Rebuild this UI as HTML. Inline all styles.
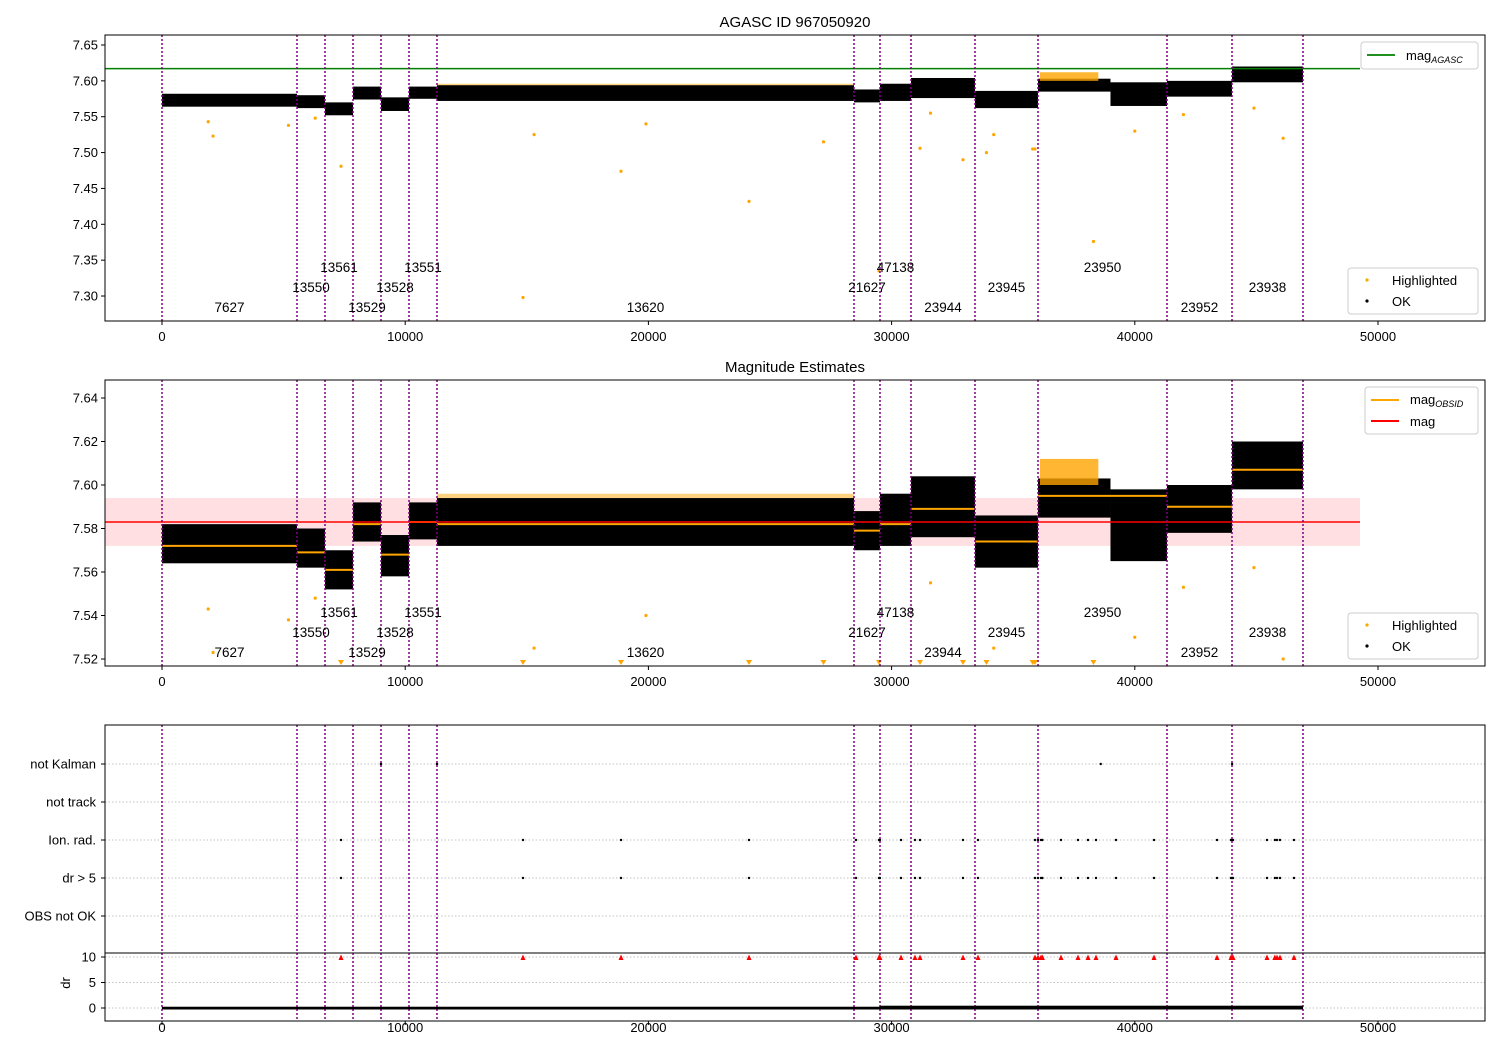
<!DOCTYPE html>
<html><head><meta charset="utf-8"><style>
body{margin:0;background:#fff;}
svg{display:block;font-family:"Liberation Sans","DejaVu Sans",sans-serif;}
</style></head><body>
<svg id="c" width="1500" height="1050" xmlns="http://www.w3.org/2000/svg">
<defs>
<clipPath id="cp1"><rect x="105" y="35" width="1380" height="286"/></clipPath>
<clipPath id="cp2"><rect x="105" y="380" width="1380" height="286"/></clipPath>
<clipPath id="cp3"><rect x="105" y="725" width="1380" height="296"/></clipPath>
</defs>
<text x="795" y="27" font-size="15" text-anchor="middle">AGASC ID 967050920</text>
<text x="795" y="372" font-size="15" text-anchor="middle">Magnitude Estimates</text>
<g id="p1" clip-path="url(#cp1)"></g>
<g id="p2" clip-path="url(#cp2)"></g>
<g id="p3" clip-path="url(#cp3)"></g>
<g id="ax"></g>
</svg>
<script>
const obsids=["7627","13550","13561","13529","13528","13551","13620","21627","47138","23944","23945","23950","23952","23938"];
const segStarts=[0,5551,6702,7854,9005,10156,11307,28454,29523,30798,33429,36020,41324,43997];
const segEnds=[5551,6702,7854,9005,10156,11307,28454,29523,30798,33429,36020,41324,43997,46916];
const segMeans=[7.572,7.569,7.561,7.582,7.568,7.583,7.582,7.579,7.582,7.589,7.574,7.595,7.590,7.607];
const bandStart=[0,5551,6702,7854,9005,10156,11307,28454,29523,30798,33429,36020,39000,41324,43997];
const bandEnd=[5551,6702,7854,9005,10156,11307,28454,29523,30798,33429,36020,39000,41324,43997,46916];
const bandLo=[7.564,7.562,7.552,7.574,7.558,7.575,7.572,7.570,7.572,7.576,7.562,7.585,7.565,7.578,7.598];
const bandHi=[7.582,7.580,7.570,7.592,7.577,7.592,7.594,7.588,7.596,7.604,7.586,7.603,7.598,7.600,7.620];
const hiStart=[36100,11307];
const hiEnd=[38500,28454];
const hiLo=[7.600,7.594];
const hiHi=[7.612,7.596];
const outX=[2100,1900,7360,14844,18874,24137,27200,31168,32936,33900,35896,38300,40000,46100,29482,15300,19900,31600,34200,35800,5200,6300,42000,44900];
const outV=[7.523,7.543,7.481,7.298,7.474,7.432,7.515,7.506,7.490,7.500,7.505,7.376,7.530,7.520,7.335,7.525,7.540,7.555,7.525,7.505,7.538,7.548,7.553,7.562];
const magAgasc=7.617, magMean=7.583, magStd=0.011, magLineEnd=49260;
const eventX=[7360,14844,18874,24137,28536,29482,29520,30387,30962,31168,32936,33553,35896,36020,36143,36200,36965,37664,38076,38405,39227,40790,43380,43956,44000,44040,45436,45760,45847,45970,46546];
const kalmanX=[9005,11307,38600,44000];
const xTicks=[0,10000,20000,30000,40000,50000];
const y1Ticks=[7.30,7.35,7.40,7.45,7.50,7.55,7.60,7.65];
const y2Ticks=[7.52,7.54,7.56,7.58,7.60,7.62,7.64];
const catLabels=["not Kalman","not track","Ion. rad.","dr > 5","OBS not OK"];
const drTicks=[0,5,10];
const drStart=[0,29523],drEnd=[46916,46916],drHi=[0.25,0.45];

const NS="http://www.w3.org/2000/svg";
const xs=v=>162+v*0.02432;
const y1=v=>45+(7.65-v)*717.2;
const y2=v=>659-(v-7.52)*2175;
const yd=v=>1008-v*5.1;
const catY=[764,802,840,878,916];
function el(tag,at,parent,txt){const e=document.createElementNS(NS,tag);for(const k in at)e.setAttribute(k,at[k]);if(txt!==undefined)e.textContent=txt;parent.appendChild(e);return e;}
const p1=document.getElementById('p1'),p2=document.getElementById('p2'),p3=document.getElementById('p3'),ax=document.getElementById('ax');

catY.forEach((y,i)=>{const g=el('line',{x1:105,x2:1485,y1:y,y2:y,stroke:'#b0b0b0','stroke-dasharray':'1.5,2','stroke-width':0.8},p3);

});
drTicks.forEach(t=>{const g=el('line',{x1:105,x2:1485,y1:yd(t),y2:yd(t),stroke:'#b0b0b0','stroke-dasharray':'1.5,2','stroke-width':0.8},p3);

});

const pb=el('rect',{x:105,y:y2(magMean+magStd),width:xs(magLineEnd)-105,height:y2(magMean-magStd)-y2(magMean+magStd),fill:'#ffdfe2'},p2);



function bands(p,yf){
for(let i=0;i<bandStart.length;i++){const r=el('rect',{x:xs(bandStart[i]),y:yf(bandHi[i]),width:xs(bandEnd[i])-xs(bandStart[i]),height:yf(bandLo[i])-yf(bandHi[i]),fill:'#000'},p);

}
for(let i=0;i<hiStart.length;i++){const r=el('rect',{x:xs(hiStart[i]),y:yf(hiHi[i]),width:xs(hiEnd[i])-xs(hiStart[i]),height:yf(hiLo[i])-yf(hiHi[i]),fill:'orange',opacity:i==0?0.8:0.5},p);

}
}
bands(p1,y1);bands(p2,y2);
for(let i=0;i<segStarts.length;i++){
const l=el('line',{x1:xs(segStarts[i]),x2:xs(segEnds[i]),y1:y2(segMeans[i]),y2:y2(segMeans[i]),stroke:'orange','stroke-width':2},p2);

}
const rl=el('line',{x1:105,x2:xs(magLineEnd),y1:y2(magMean),y2:y2(magMean),stroke:'red','stroke-width':1.5},p2);


const gl=el('line',{x1:105,x2:xs(magLineEnd),y1:y1(magAgasc),y2:y1(magAgasc),stroke:'green','stroke-width':1.5},p1);


for(let i=0;i<outX.length;i++){
const c=el('circle',{cx:xs(outX[i]),cy:y1(outV[i]),r:1.6,fill:'orange'},p1);


if(outV[i]>=7.518){const d=el('circle',{cx:xs(outX[i]),cy:y2(outV[i]),r:1.6,fill:'orange'},p2);

}
else{const x=xs(outX[i]);const d=el('polygon',{points:`${x-3},660 ${x+3},660 ${x},665`,fill:'orange'},p2);

}}
const bounds=segStarts.concat([segEnds[segEnds.length-1]]);
[[p1,35,321],[p2,380,666],[p3,725,1021]].forEach(([p,a,b])=>{bounds.forEach(v=>{const l=el('line',{x1:xs(v),x2:xs(v),y1:a,y2:b,stroke:'purple','stroke-width':1.5,'stroke-dasharray':'2,2'},p);

});});
const rowOff=[3,2,1,3,2,1,3,2,1,3,2,1,3,2];
for(let i=0;i<obsids.length;i++){const cx=xs((segStarts[i]+segEnds[i])/2);
[[272,p1],[617,p2]].forEach(([base,p])=>{const t=el('text',{x:cx,y:base+(rowOff[i]-1)*20,'font-size':13.5,'text-anchor':'middle'},p,obsids[i]);

});}
eventX.forEach(v=>{[840,878].forEach(y=>{const c=el('circle',{cx:xs(v),cy:y,r:1.2,fill:'#000'},p3);

});
const x=xs(v);const t=el('polygon',{points:`${x-2.5},960 ${x+2.5},960 ${x},954.5`,fill:'red'},p3);

});
kalmanX.forEach(v=>{const c=el('circle',{cx:xs(v),cy:764,r:1.2,fill:'#000'},p3);

});
for(let i=0;i<drStart.length;i++){const r=el('rect',{x:xs(drStart[i]),y:yd(drHi[i]),width:xs(drEnd[i])-xs(drStart[i]),height:yd(0)-yd(drHi[i])+1.5,fill:'#000'},p3);

}
const sep=el('line',{x1:105,x2:1485,y1:953,y2:953,stroke:'#000','stroke-width':1},p3);



[[35,321,337],[380,666,682],[725,1021,1028]].forEach(([a,b,ly])=>{
const f=el('rect',{x:105,y:a,width:1380,height:b-a,fill:'none',stroke:'#000','stroke-width':1},ax);


xTicks.forEach(t=>{el('line',{x1:xs(t),x2:xs(t),y1:b,y2:b+4,stroke:'#000'},ax);
const tx=el('text',{x:xs(t),y:ly+4,'font-size':13,'text-anchor':'middle'},ax,String(t));

});});
y1Ticks.forEach(t=>{el('line',{x1:101,x2:105,y1:y1(t),y2:y1(t),stroke:'#000'},ax);
const tx=el('text',{x:98,y:y1(t)+4.5,'font-size':13,'text-anchor':'end'},ax,t.toFixed(2));

});
y2Ticks.forEach(t=>{el('line',{x1:101,x2:105,y1:y2(t),y2:y2(t),stroke:'#000'},ax);
const tx=el('text',{x:98,y:y2(t)+4.5,'font-size':13,'text-anchor':'end'},ax,t.toFixed(2));

});
catLabels.forEach((s,i)=>{el('line',{x1:101,x2:105,y1:catY[i],y2:catY[i],stroke:'#000'},ax);
const tx=el('text',{x:96,y:catY[i]+4.5,'font-size':13,'text-anchor':'end'},ax,s);

});
drTicks.forEach(t=>{el('line',{x1:101,x2:105,y1:yd(t),y2:yd(t),stroke:'#000'},ax);
const tx=el('text',{x:96,y:yd(t)+4.5,'font-size':13,'text-anchor':'end'},ax,String(t));

});
const dl=el('text',{x:70,y:983,'font-size':13,'text-anchor':'middle',transform:'rotate(-90 70 983)'},ax,'dr');



function box(x,y,w,h,name){const r=el('rect',{x:x,y:y,width:w,height:h,rx:3,fill:'#fff','fill-opacity':0.85,stroke:'#ccc'},ax);

}
function ptLegend(y0,name){box(1348,y0,130,46,name);
el('circle',{cx:1367,cy:y0+12,r:1.6,fill:'orange'},ax);
el('text',{x:1392,y:y0+17,'font-size':13},ax,'Highlighted');
el('circle',{cx:1367,cy:y0+33,r:1.6,fill:'#000'},ax);
el('text',{x:1392,y:y0+38,'font-size':13},ax,'OK');}
ptLegend(268,'legend-points-top');ptLegend(613,'legend-points-mid');
box(1361,42,117,27,'legend-mag-agasc');
el('line',{x1:1367,x2:1395,y1:55,y2:55,stroke:'green','stroke-width':1.8},ax);
const ta=el('text',{x:1406,y:60,'font-size':13},ax,'mag');el('tspan',{'font-size':9,'font-style':'italic',dy:3},ta,'AGASC');
box(1365,387,113,47,'legend-mag-lines');
el('line',{x1:1371,x2:1399,y1:400,y2:400,stroke:'orange','stroke-width':2},ax);
const tb=el('text',{x:1410,y:404,'font-size':13},ax,'mag');el('tspan',{'font-size':9,'font-style':'italic',dy:3},tb,'OBSID');
el('line',{x1:1371,x2:1399,y1:421,y2:421,stroke:'red','stroke-width':2},ax);
el('text',{x:1410,y:426,'font-size':13},ax,'mag');
</script>
</body></html>
